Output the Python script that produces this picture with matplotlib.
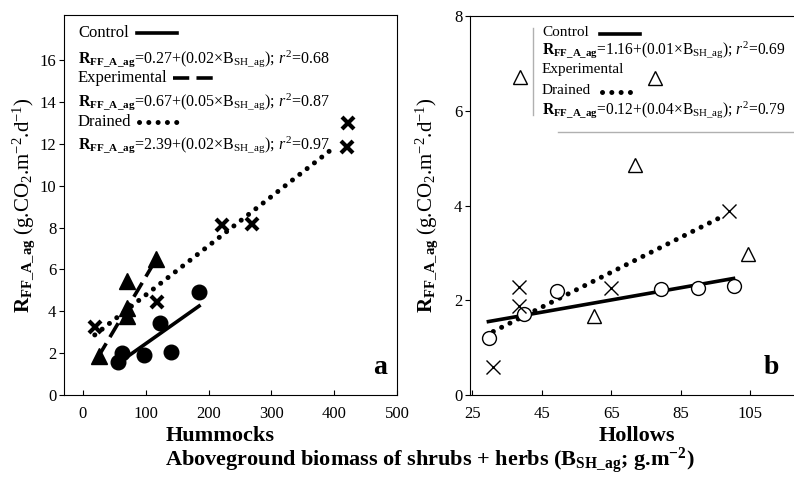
import matplotlib
matplotlib.use("Agg")
import matplotlib.pyplot as plt
from matplotlib.lines import Line2D

plt.rcParams['font.family'] = ['Liberation Serif', 'DejaVu Serif']
plt.rcParams['mathtext.fontset'] = 'custom'
plt.rcParams['mathtext.rm'] = 'Liberation Serif'
plt.rcParams['mathtext.it'] = 'Liberation Serif:italic'
plt.rcParams['mathtext.bf'] = 'Liberation Serif:bold'

# ---- Hummocks (panel a) ----
hum_ctrl_x = [56, 62, 98, 123, 140, 185]
hum_ctrl_y = [1.6, 2.0, 1.9, 3.45, 2.07, 4.9]
hum_exp_x = [26, 71, 71, 71, 116]
hum_exp_y = [1.87, 5.45, 4.15, 3.75, 6.48]
hum_drn_x = [20, 118, 221, 269, 422, 420]
hum_drn_y = [3.26, 4.46, 8.1, 8.15, 13.0, 11.85]
# fitted lines: (x start, x end), (y start, y end)
hum_ctrl_fit = ([67, 185], [1.75, 4.25])
hum_exp_fit = ([24, 116], [1.8, 6.45])
hum_drn_fit = ([19, 398], [2.87, 11.78])

# ---- Hollows (panel b) ----
hol_ctrl_x = [30.0, 39.8, 49.5, 79.4, 89.9, 100.2]
hol_ctrl_y = [1.21, 1.71, 2.2, 2.23, 2.25, 2.31]
hol_exp_x = [38.8, 77.7, 71.9, 60.2, 104.4]
hol_exp_y = [6.72, 6.69, 4.85, 1.67, 2.97]
hol_drn_x = [31.1, 38.6, 38.6, 64.9, 98.8]
hol_drn_y = [0.6, 2.28, 1.88, 2.25, 3.89]
hol_ctrl_fit = ([29.7, 100.2], [1.55, 2.46])
hol_drn_fit = ([31.1, 97.3], [1.34, 3.78])

eq_a = [
    r'$\mathbf{R}_{\mathbf{FF\_A\_ag}}$=0.27+(0.02×B$_{\mathrm{SH\_ag}}$); $\mathit{r}^{2}$=0.68',
    r'$\mathbf{R}_{\mathbf{FF\_A\_ag}}$=0.67+(0.05×B$_{\mathrm{SH\_ag}}$); $\mathit{r}^{2}$=0.87',
    r'$\mathbf{R}_{\mathbf{FF\_A\_ag}}$=2.39+(0.02×B$_{\mathrm{SH\_ag}}$); $\mathit{r}^{2}$=0.97',
]
eq_b = [
    r'$\mathbf{R}_{\mathbf{FF\_A\_ag}}$=1.16+(0.01×B$_{\mathrm{SH\_ag}}$); $\mathit{r}^{2}$=0.69',
    r'$\mathbf{R}_{\mathbf{FF\_A\_ag}}$=0.12+(0.04×B$_{\mathrm{SH\_ag}}$); $\mathit{r}^{2}$=0.79',
]

W, H = 794, 478
fig = plt.figure(figsize=(W / 100, H / 100), dpi=100)


def fx(x):
    return x / W


def fy(y):
    return 1 - y / H


def ftext(x, y, s, size, **kw):
    fig.text(fx(x), fy(y), s, fontsize=size, va='center', ha='left', **kw)


def fline(x0, x1, y, **kw):
    fig.add_artist(Line2D([fx(x0), fx(x1)], [fy(y), fy(y)], transform=fig.transFigure, **kw))


ylab = r'$\mathbf{R}_{\mathbf{FF\_A\_ag}}$ (g.CO$_2$.m$^{-2}$.d$^{-1}$)'
dots = dict(color='black', lw=3.6, linestyle=(0, (0.01, 1.85)), dash_capstyle='round')
dash = dict(color='black', lw=2.6, linestyle=(0, (4.5, 2.0)))
solid = dict(color='black', lw=2.6)

# panel a
axa = fig.add_axes([fx(64), fy(395), fx(397) - fx(64), fy(15) - fy(395)])
axa.plot(*hum_drn_fit, **dots)
axa.plot(*hum_exp_fit, **dash)
axa.plot(*hum_ctrl_fit, **solid)
axa.plot(hum_ctrl_x, hum_ctrl_y, 'o', color='black', ms=10.5, ls='none')
axa.plot(hum_exp_x, hum_exp_y, '^', color='black', ms=11, ls='none')
axa.plot(hum_drn_x, hum_drn_y, 'x', color='black', ms=9, mew=3, ls='none')
axa.set_xlim(-30, 500)
axa.set_ylim(0, 18.15)
axa.set_xticks(range(0, 501, 100))
axa.set_yticks(range(0, 17, 2))
axa.tick_params(axis='x', direction='in', labelsize=12, pad=8)
axa.tick_params(axis='y', direction='out', labelsize=12, pad=2)
axa.set_ylabel(ylab, fontsize=15)
axa.yaxis.set_label_coords(-0.08, 0.5)
axa.text(0.97, 0.04, 'a', transform=axa.transAxes, fontsize=20, fontweight='bold', ha='right', va='bottom')

# panel b
axb = fig.add_axes([fx(470), fy(395), 1 - fx(470), fy(16) - fy(395)])
axb.plot(*hol_drn_fit, **dots)
axb.plot(*hol_ctrl_fit, **solid)
axb.plot(hol_ctrl_x, hol_ctrl_y, 'o', mfc='white', mec='black', mew=1.0, ms=10, ls='none')
axb.plot(hol_exp_x, hol_exp_y, '^', mfc='white', mec='black', mew=1.0, ms=10, ls='none')
axb.plot(hol_drn_x, hol_drn_y, 'x', color='black', ms=10, mew=1.0, ls='none')
axb.set_xlim(24.4, 117.6)
axb.set_ylim(0, 8)
axb.set_xticks(range(25, 106, 20))
axb.set_yticks(range(0, 9, 2))
axb.spines['right'].set_visible(False)
axb.tick_params(axis='x', direction='in', labelsize=12, pad=8)
axb.tick_params(axis='y', direction='out', labelsize=12, pad=2)
axb.set_ylabel(ylab, fontsize=15)
axb.yaxis.set_label_coords(-0.094, 0.5)
axb.text(0.955, 0.04, 'b', transform=axb.transAxes, fontsize=20, fontweight='bold', ha='right', va='bottom')

# legend-like text, panel a
ftext(78, 33, 'Control', 12)
fline(137, 177, 33, **solid)
ftext(78, 59, eq_a[0], 11.5)
ftext(78, 78, 'Experimental', 12)
fline(173, 213, 78, **dash)
ftext(78, 102, eq_a[1], 11.5)
ftext(78, 122, 'Drained', 12)
fline(139, 177, 122, **dots)
ftext(78, 145, eq_a[2], 11.5)

# legend-like text, panel b
ftext(542, 33, 'Control', 11)
fline(600, 640, 34, **solid)
ftext(542, 50, eq_b[0], 11.2)
ftext(542, 70, 'Experimental', 11)
ftext(542, 90, 'Drained', 11)
fline(602, 639, 92, **dots)
ftext(542, 110, eq_b[1], 11.2)
fig.add_artist(Line2D([fx(533), fx(533)], [fy(28), fy(115)], transform=fig.transFigure, color='#b0b0b0', lw=1))
fig.add_artist(Line2D([fx(558), fx(794)], [fy(132), fy(132)], transform=fig.transFigure, color='#b0b0b0', lw=1))

# axis titles
fig.text(fx(220), fy(436), 'Hummocks', fontsize=16, fontweight='bold', ha='center', va='center')
fig.text(fx(637), fy(436), 'Hollows', fontsize=16, fontweight='bold', ha='center', va='center')
fig.text(fx(430), fy(461),
         r'Aboveground biomass of shrubs + herbs (B$_{\mathbf{SH\_ag}}$; g.m$^{\mathbf{-2}}$)',
         fontsize=16, fontweight='bold', ha='center', va='center')

fig.savefig('out.png', dpi=100)
